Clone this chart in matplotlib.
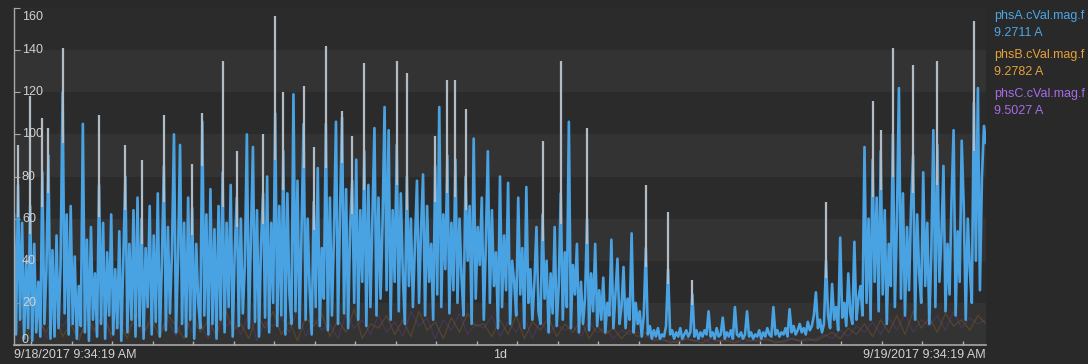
import numpy as np
import pandas as pd
import matplotlib
matplotlib.use("Agg")
import matplotlib.pyplot as plt
import matplotlib.dates as mdates
from matplotlib.ticker import NullLocator

plt.rcParams["font.family"] = ["Liberation Sans", "DejaVu Sans"]

# ---- data -----------------------------------------------------------------
start = pd.Timestamp("2017-09-18 09:34:19")
end = start + pd.Timedelta(days=1)

# phase A current magnitude, one sample every 3 minutes (A)
phsA = [
    62, 5, 76, 12, 58, 3, 40, 8, 66, 2, 48, 6, 30, 4, 82, 10, 35, 90, 3, 45,
    4, 52, 8, 38, 120, 15, 62, 5, 66, 10, 42, 3, 28, 9, 105, 6, 50, 2, 56, 12,
    34, 4, 76, 10, 58, 3, 44, 14, 62, 5, 36, 8, 54, 2, 40, 80, 6, 48, 12, 64,
    4, 70, 9, 60, 3, 46, 18, 66, 5, 52, 11, 72, 4, 38, 85, 7, 56, 15, 44, 100,
    6, 40, 95, 10, 58, 4, 70, 12, 65, 3, 48, 20, 8, 106, 14, 62, 5, 74, 10, 55,
    3, 66, 12, 82, 6, 58, 18, 76, 4, 44, 70, 9, 60, 15, 38, 100, 8, 52, 94, 11,
    64, 4, 48, 72, 13, 80, 6, 58, 20, 110, 9, 66, 14, 92, 5, 72, 24, 10, 119, 16,
    78, 8, 54, 105, 12, 60, 26, 5, 68, 18, 84, 9, 46, 22, 105, 7, 70, 14, 52, 106,
    10, 62, 108, 15, 74, 8, 56, 78, 20, 88, 12, 64, 30, 92, 9, 76, 18, 60, 103, 14,
    70, 22, 58, 113, 26, 102, 12, 64, 30, 95, 16, 72, 34, 10, 80, 28, 60, 18, 48, 78,
    20, 54, 81, 14, 66, 30, 48, 12, 85, 24, 113, 18, 62, 36, 90, 15, 58, 26, 88, 20,
    60, 32, 14, 80, 40, 66, 10, 98, 22, 56, 38, 70, 12, 48, 92, 20, 64, 28, 44, 8,
    80, 18, 52, 26, 77, 10, 40, 30, 14, 70, 24, 46, 8, 75, 20, 36, 12, 30, 56, 16,
    10, 62, 22, 40, 6, 34, 15, 56, 9, 28, 72, 12, 44, 18, 106, 8, 38, 24, 48, 6,
    30, 10, 22, 60, 7, 34, 16, 48, 9, 26, 12, 32, 6, 20, 14, 50, 8, 24, 41, 10,
    18, 37, 8, 22, 12, 53, 6, 20, 10, 16, 4, 14, 46, 5, 9, 3, 7, 4, 8, 3,
    5, 4, 9, 36, 5, 7, 3, 6, 4, 8, 3, 5, 7, 4, 6, 24, 4, 7, 3, 6,
    4, 7, 5, 16, 4, 6, 3, 8, 4, 5, 13, 3, 6, 4, 7, 3, 18, 5, 4, 6,
    3, 5, 16, 4, 6, 3, 5, 4, 7, 3, 6, 4, 8, 5, 4, 18, 5, 7, 4, 6,
    5, 8, 4, 17, 6, 9, 5, 7, 10, 6, 8, 5, 11, 7, 9, 14, 25, 8, 12, 6,
    10, 40, 14, 8, 29, 12, 18, 7, 51, 13, 20, 9, 34, 15, 10, 49, 12, 22, 28, 14,
    94, 20, 60, 12, 88, 30, 70, 16, 92, 24, 64, 10, 48, 28, 100, 18, 58, 122, 22, 72,
    14, 56, 26, 66, 90, 12, 62, 34, 20, 82, 28, 58, 10, 44, 102, 18, 95, 30, 52, 85,
    16, 48, 24, 70, 102, 14, 54, 30, 97, 66, 12, 60, 36, 20, 115, 40, 122, 26, 80, 104, 96,
]

# short-lived maxima reached between samples: (sample index, peak value)
peak_idx = [2, 8, 14, 17, 24, 42, 55, 63, 74, 88, 93, 103, 110, 123, 129, 133,
            143, 148, 154, 162, 167, 173, 189, 194, 208, 214, 218, 223, 261,
            270, 283, 312, 323, 335, 401, 424, 428, 434, 444, 456, 474]
peak_max = [95, 118, 108, 103, 141, 109, 95, 88, 109, 86, 110, 135, 92, 100, 156, 120,
            123, 94, 142, 111, 99, 134, 135, 129, 99, 126, 126, 112, 97,
            135, 103, 76, 63, 31, 68, 116, 102, 141, 133, 135, 154]

# phases B and C, one sample every 12 minutes (A)
phsB = [
    8, 14, 3, 12, 6, 16, 4, 10, 2, 13, 7, 15, 5, 11, 3, 17, 6, 12, 4, 14,
    9, 3, 15, 6, 12, 4, 18, 7, 10, 3, 14, 8, 16, 5, 11, 2, 13, 9, 15, 4,
    12, 6, 17, 3, 10, 8, 14, 5, 12, 4, 16, 7, 11, 3, 13, 6, 15, 9, 10, 4,
    12, 5, 14, 3, 11, 7, 13, 4, 10, 6, 12, 3, 9, 5, 8, 3, 7, 4, 6,
    2, 3, 1, 2, 3, 2, 1, 3, 2, 2, 1, 3, 2, 2, 3, 1, 2, 3, 2, 3, 2,
    4, 6, 3, 8, 5, 10, 4, 12, 6, 14, 5, 16, 8, 13, 6, 15, 9, 12, 7, 14, 10,
]
phsC = [
    5, 11, 7, 15, 3, 12, 9, 14, 4, 10, 6, 16, 3, 13, 8, 11, 5, 15, 7, 12,
    4, 14, 6, 10, 3, 16, 8, 12, 5, 15, 2, 11, 9, 13, 6, 17, 4, 12, 7, 10,
    3, 15, 8, 12, 5, 14, 6, 11, 4, 16, 9, 13, 3, 12, 7, 15, 5, 10, 8, 14,
    4, 11, 6, 13, 3, 12, 5, 10, 7, 9, 4, 11, 6, 8, 3, 7, 5, 6, 4,
    3, 2, 2, 1, 3, 2, 3, 1, 2, 3, 2, 1, 2, 3, 2, 2, 1, 3, 2, 2, 3,
    5, 3, 7, 4, 9, 6, 11, 5, 13, 7, 15, 6, 12, 9, 14, 7, 16, 8, 13, 10, 12,
]

series_names = ["phsA.cVal.mag.f", "phsB.cVal.mag.f", "phsC.cVal.mag.f"]
series_last = ["9.2711 A", "9.2782 A", "9.5027 A"]
series_colors = ["#4ea6e6", "#e6a23a", "#a66ce6"]

y_ticks = [0, 20, 40, 60, 80, 100, 120, 140, 160]
x_labels = ["9/18/2017 9:34:19 AM", "1d", "9/19/2017 9:34:19 AM"]

tA = start + pd.to_timedelta(np.arange(len(phsA)) * 3, unit="min")
tBC = start + pd.to_timedelta(np.arange(len(phsB)) * 12, unit="min")

# ---- figure -----------------------------------------------------------------
W, H = 1088, 364
fig = plt.figure(figsize=(W / 100, H / 100), dpi=100, facecolor="#292929")
ax = fig.add_axes([14 / W, 19 / H, 972 / W, 337 / H], facecolor="#2b2b2b")
ax.set_xlim(start, end)
ax.set_ylim(0, 160)

# alternating horizontal bands
for lo in y_ticks[:-1:2]:
    ax.axhspan(lo, lo + 20, color="#333333", lw=0, zorder=0)

ax.plot(tBC, phsB, color="#b0701e", lw=0.9, alpha=0.28, zorder=1)
ax.plot(tBC, phsC, color="#7a48b0", lw=0.9, alpha=0.25, zorder=1)
ax.plot(tA, phsA, color="#49a3e2", lw=1.9, zorder=2)

pk_t = tA[peak_idx]
pk_lo = [phsA[i] * 0.8 for i in peak_idx]
ax.vlines(pk_t, pk_lo, peak_max, color="#b2bcc6", lw=1.6, zorder=3)

# axes styling
for s in ("top", "right"):
    ax.spines[s].set_visible(False)
ax.spines["left"].set_color("#a8a8a8")
ax.spines["bottom"].set_color("#a8a8a8")
ax.spines["left"].set_linewidth(1.0)
ax.spines["bottom"].set_linewidth(1.2)

ax.set_yticks(y_ticks)
ax.tick_params(axis="y", direction="in", length=4, color="#a8a8a8",
               labelleft=False)
ax.xaxis.set_major_locator(NullLocator())
ax.xaxis.set_minor_locator(mdates.HourLocator())
ax.tick_params(axis="x", which="minor", direction="in", length=3,
               color="#b0b0b0", width=1.0)
ax.tick_params(axis="x", which="major", labelbottom=False)

lab_kw = dict(color="#d2d2d2", fontsize=9)
for v in y_ticks:
    dy = -9 if v == 160 else (5 if v == 0 else 0)
    ax.annotate(str(v), xy=(0, v), xycoords=("axes fraction", "data"),
                xytext=(8, dy), textcoords="offset pixels",
                ha="left", va="center", **lab_kw)

for xf, ha, txt in zip([0.0, 0.5, 1.0], ["left", "center", "right"], x_labels):
    ax.annotate(txt, xy=(xf, 0), xycoords="axes fraction",
                xytext=(0, -10), textcoords="offset pixels",
                ha=ha, va="center", **lab_kw)

# legend with last values
ys = [16, 33, 55, 72, 94, 111]
for k, (nm, lv, c) in enumerate(zip(series_names, series_last, series_colors)):
    fig.text(994 / W, 1 - ys[2 * k] / H, nm, color=c, fontsize=9,
             ha="left", va="center")
    fig.text(994 / W, 1 - ys[2 * k + 1] / H, lv, color=c, fontsize=9,
             ha="left", va="center")

fig.savefig("out.png", dpi=100, facecolor=fig.get_facecolor())
